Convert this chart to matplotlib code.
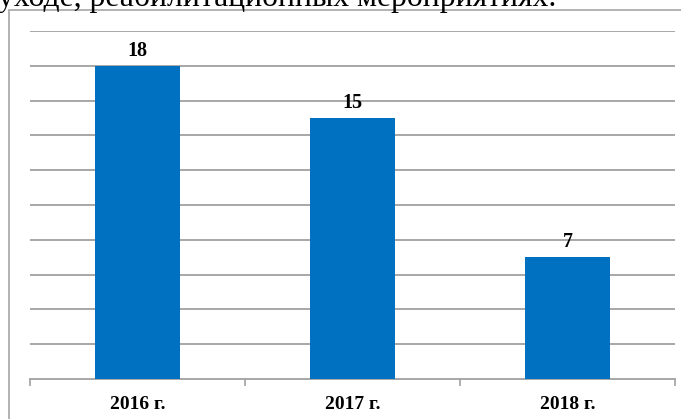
import numpy as np
import matplotlib
matplotlib.use('Agg')
import matplotlib.pyplot as plt
from matplotlib.patches import Rectangle

years = ['2016 г.', '2017 г.', '2018 г.']
values = [18, 15, 7]
caption = 'уходе, реабилитационных мероприятиях.'

plt.rcParams['font.family'] = ['Liberation Serif', 'DejaVu Serif']

W, H = 681, 419
fig = plt.figure(figsize=(W / 100, H / 100), dpi=100)

# рамка диаграммы (уходит за край картинки)
fig.patches.append(Rectangle((9 / W, 1 - 430 / H), 700 / W, 420 / H,
                             transform=fig.transFigure, fill=False,
                             edgecolor='#a6a6a6', linewidth=1.2))
# обрезанная строка текста сверху
fig.text(-2 / W, 1 - 6 / H, caption, fontsize=22.8, va='baseline', ha='left', color='black')

ax = fig.add_axes([30 / W, 40 / H, 645 / W, 348 / H])
x = np.arange(len(years))
bars = ax.bar(x, values, width=0.395, color='#0070C0', zorder=3)
for xi, v in zip(x, values):
    ax.text(xi, v + 0.3, str(v), ha='center', va='bottom', fontsize=14.5, fontweight='bold')

ax.set_xlim(-0.5, 2.5)
ax.set_ylim(0, 20)
ax.set_yticks(np.arange(2, 21, 2))
ax.yaxis.grid(True, color='#a0a0a0', linewidth=1.3, zorder=0)
ax.tick_params(axis='y', length=0, labelleft=False)
ax.set_xticks(x)
ax.set_xticklabels(years, fontsize=14, fontweight='bold')
ax.set_xticks([-0.5, 0.5, 1.5, 2.5], minor=True)
ax.tick_params(axis='x', which='major', length=0, pad=12)
ax.tick_params(axis='x', which='minor', length=5, color='#a0a0a0', width=1.2)
for s in ['left', 'right', 'top']:
    ax.spines[s].set_visible(False)
ax.spines['bottom'].set_color('#a0a0a0')
ax.spines['bottom'].set_linewidth(1.3)

fig.savefig('out.png', dpi=100)
